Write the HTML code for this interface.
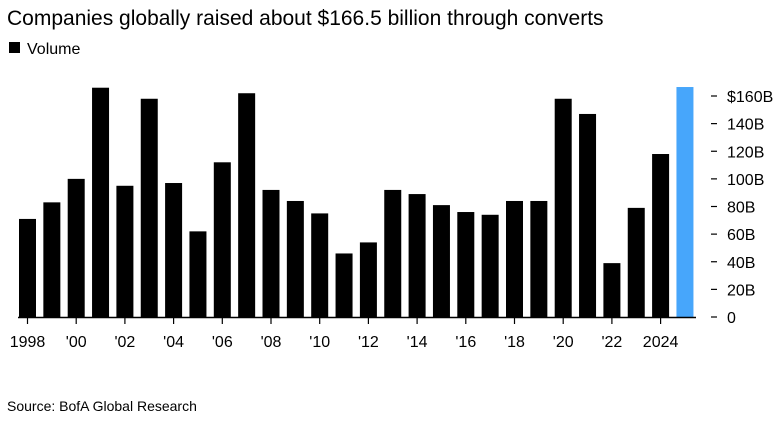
<!DOCTYPE html>
<html><head><meta charset="utf-8"><style>
body{margin:0;background:#fff;width:784px;height:418px;overflow:hidden;font-family:"Liberation Sans",Arial,sans-serif}
</style></head><body>
<svg width="784" height="418" xmlns="http://www.w3.org/2000/svg">
<text x="7" y="25" font-size="21" fill="#000">Companies globally raised about $166.5 billion through converts</text>
<rect x="9" y="42" width="11" height="11" fill="#000"/>
<text x="27" y="54" font-size="16" fill="#000">Volume</text>
<g id="bars"></g>
<g id="yaxis"></g>
<g id="xaxis"></g>
<line x1="18" y1="317.5" x2="696" y2="317.5" stroke="#000" stroke-width="1.5"/>
<text x="7" y="411" font-size="14" fill="#000">Source: BofA Global Research</text>
</svg>
<script>
const years=[1998,1999,2000,2001,2002,2003,2004,2005,2006,2007,2008,2009,2010,2011,2012,2013,2014,2015,2016,2017,2018,2019,2020,2021,2022,2023,2024,2025];
const volumes=[71,83,100,166,95,158,97,62,112,162,92,84,75,46,54,92,89,81,76,74,84,84,158,147,39,79,118,166.5];
const yTicks=[0,20,40,60,80,100,120,140,160];
const yTickLabels=['0','20B','40B','60B','80B','100B','120B','140B','$160B'];
const xLabelYears=[1998,2000,2002,2004,2006,2008,2010,2012,2014,2016,2018,2020,2022,2024];
const xLabels=['1998',"'00","'02","'04","'06","'08","'10","'12","'14","'16","'18","'20","'22",'2024'];
const NS='http://www.w3.org/2000/svg';
const y=v=>317-v*(221/160);
const xc=yr=>27.5+(yr-1998)*24.35;
const bw=17;
const bars=document.getElementById('bars');
years.forEach((yr,i)=>{
  const r=document.createElementNS(NS,'rect');
  r.setAttribute('x',xc(yr)-bw/2);r.setAttribute('y',y(volumes[i]));
  r.setAttribute('width',bw);r.setAttribute('height',317-y(volumes[i]));
  r.setAttribute('fill',i===years.length-1?'#47a6fb':'#000');
  
  
  bars.appendChild(r);
});
const ya=document.getElementById('yaxis');
yTicks.forEach((t,i)=>{
  const l=document.createElementNS(NS,'line');
  l.setAttribute('x1',711);l.setAttribute('x2',717);l.setAttribute('y1',y(t));l.setAttribute('y2',y(t));
  l.setAttribute('stroke','#000');l.setAttribute('stroke-width','1.2');
  
  
  ya.appendChild(l);
  const tx=document.createElementNS(NS,'text');
  tx.setAttribute('x',727);tx.setAttribute('y',y(t)+6);tx.setAttribute('font-size','16');
  tx.textContent=yTickLabels[i];
  
  
  ya.appendChild(tx);
});
const xa=document.getElementById('xaxis');
xLabelYears.forEach((yr,i)=>{
  const l=document.createElementNS(NS,'line');
  l.setAttribute('x1',xc(yr));l.setAttribute('x2',xc(yr));l.setAttribute('y1',318);l.setAttribute('y2',324);
  l.setAttribute('stroke','#000');l.setAttribute('stroke-width','1.2');
  
  
  xa.appendChild(l);
  const tx=document.createElementNS(NS,'text');
  tx.setAttribute('x',xc(yr));tx.setAttribute('y',347);tx.setAttribute('font-size','16');
  tx.setAttribute('text-anchor','middle');
  tx.textContent=xLabels[i];
  
  
  xa.appendChild(tx);
});
</script>
</body></html>
